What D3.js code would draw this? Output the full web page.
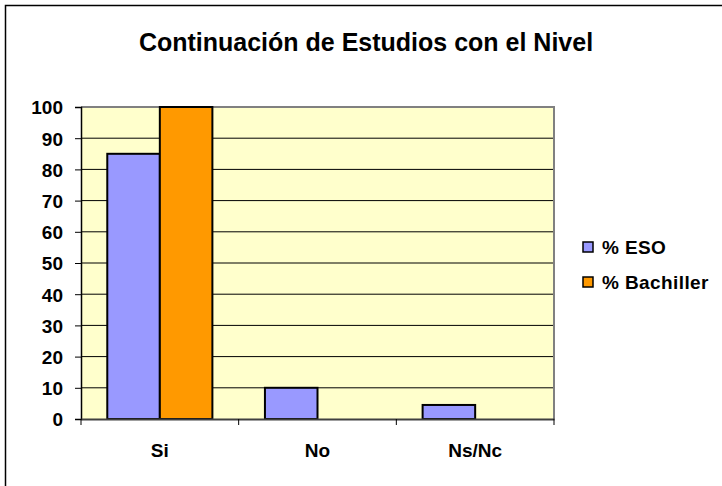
<!DOCTYPE html>
<html><head><meta charset="utf-8">
<script src="https://cdn.jsdelivr.net/npm/d3@7"></script>
<style>body{margin:0;background:#fff}svg{display:block}text{font-family:Arial,"Liberation Sans",sans-serif;font-weight:bold}</style>
</head><body>
<script>
const categories = ["Si", "No", "Ns/Nc"];
const seriesNames = ["% ESO", "% Bachiller"];
const esoValues = [85, 10, 4.5];
const bachillerValues = [100, 0, 0];
const yTicks = [0, 10, 20, 30, 40, 50, 60, 70, 80, 90, 100];
const colors = ["#9999FF", "#FF9900"];
const title = "Continuación de Estudios con el Nivel";

const W = 722, H = 486;
const svg = d3.select("body").append("svg").attr("width", W).attr("height", H);
svg.append("rect").attr("x", 5.5).attr("y", 5.5).attr("width", 900).attr("height", 900)
  .attr("fill", "#fff").attr("stroke", "#000").attr("stroke-width", 1.5);

const L = 81, R = 554, T = 107, B = 419;
const x = d3.scaleBand().domain(categories).range([L, R]).padding(0);
const inner = d3.scaleBand().domain(seriesNames).range([0, x.bandwidth()]).paddingInner(0).paddingOuter(0.5);
const y = d3.scaleLinear().domain([0, 100]).range([B, T]);

svg.append("rect").attr("x", L).attr("y", T).attr("width", R - L).attr("height", B - T).attr("fill", "#FFFFCC");

svg.append("g").selectAll("line").data(yTicks.filter(d => d > 0)).join("line")
  .attr("x1", L).attr("x2", R).attr("y1", d => y(d)).attr("y2", d => y(d))
  .attr("stroke", "#000").attr("stroke-width", 1);

// plot border
svg.append("path").attr("d", `M${L},${T}H${R}V${B}`).attr("fill", "none").attr("stroke", "#808080").attr("stroke-width", 2);

const data = categories.map((c, i) => ({c, vals: [esoValues[i], bachillerValues[i]]}));
const g = svg.append("g");
data.forEach(d => {
  d.vals.forEach((v, j) => {
    if (v <= 0) return;
    g.append("rect")
      .attr("x", x(d.c) + inner(seriesNames[j]))
      .attr("y", y(v))
      .attr("width", inner.bandwidth())
      .attr("height", B - y(v))
      .attr("fill", colors[j]).attr("stroke", "#000").attr("stroke-width", 2);
  });
});

const FONT = "Arial, 'Liberation Sans', sans-serif";
// y axis
const ya = svg.append("g").attr("transform", `translate(${L},0)`)
  .call(d3.axisLeft(y).tickValues(yTicks).tickSize(6).tickPadding(12));
ya.select(".domain").attr("stroke", "#000").attr("stroke-width", 1.5);
ya.selectAll(".tick line").attr("stroke", "#000");
ya.selectAll(".tick text").attr("font-size", 19).attr("fill", "#000").attr("dy", "0.36em")
  .attr("font-family", FONT).attr("font-weight", "bold");

// x axis
const xa = svg.append("g").attr("transform", `translate(0,${B})`)
  .call(d3.axisBottom(x).tickSize(0).tickPadding(0));
xa.select(".domain").attr("stroke", "#404040").attr("stroke-width", 2);
xa.selectAll(".tick text").attr("font-size", 19).attr("fill", "#000").attr("dy", 0).attr("y", 38)
  .attr("font-family", FONT).attr("font-weight", "bold");
const bounds = [L, ...categories.map(c => x(c) + x.bandwidth())];
svg.append("g").selectAll("line").data(bounds).join("line")
  .attr("x1", d => d).attr("x2", d => d).attr("y1", B).attr("y2", B + 6)
  .attr("stroke", "#000").attr("stroke-width", 1);

// title
svg.append("text").attr("x", 366).attr("y", 51).attr("text-anchor", "middle")
  .attr("font-size", 25).text(title);

// legend
const lg = svg.append("g");
seriesNames.forEach((s, i) => {
  const yy = 242 + i * 35;
  lg.append("rect").attr("x", 583).attr("y", yy).attr("width", 10).attr("height", 10)
    .attr("fill", colors[i]).attr("stroke", "#000").attr("stroke-width", 1.5);
  lg.append("text").attr("x", 602).attr("y", yy + 12).attr("font-size", 19).attr("letter-spacing", 0.4).text(s);
});
</script>
</body></html>
